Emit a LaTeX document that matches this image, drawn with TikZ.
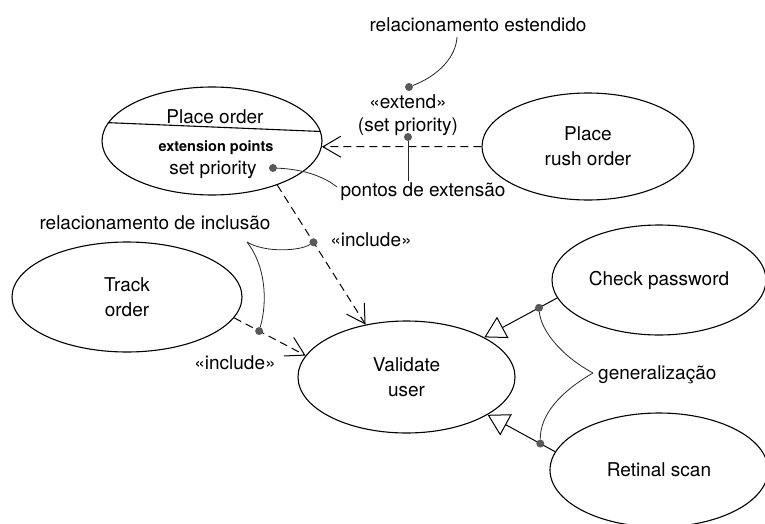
\documentclass[tikz,border=0pt]{standalone}
\usepackage{fontspec}
\setmainfont{TeX Gyre Heros}
\usetikzlibrary{shapes.geometric,arrows.meta}
\begin{document}
\begin{tikzpicture}[x=1pt,y=-1pt,
  txt/.style={inner sep=0pt, align=center, font=\fontsize{19}{25}\selectfont},
  usecase/.style={ellipse, draw, line width=1.1pt, inner sep=0pt, txt},
  dot/.style={circle, fill=black!65, inner sep=0pt, minimum size=8pt},
  note/.style={line width=0.8pt, black!85},
  dashedlink/.style={dash pattern=on 8pt off 5pt, line width=1pt,
    -{Straight Barb[length=18pt,width=21pt,line width=1pt]}},
  genlink/.style={line width=1pt, -{Triangle[open,length=21pt,width=24pt,line width=1pt]}}
]
\useasboundingbox (0,0) rectangle (765,524);

% use cases
\node[usecase, minimum width=220pt, minimum height=108pt] (po) at (212,141) {};
\draw[line width=1.1pt] (po.170) -- (po.5);
\node[txt] (potitle) at (215,117) {Place order};
\node[txt, font=\bfseries\fontsize{14.5}{17}\selectfont] (epts) at (216,148) {extension points};
\node[txt] (sp) at (213,170) {set priority};

\node[usecase, minimum width=212pt, minimum height=107pt] (rush) at (588,146.5) {Place\\rush order};
\node[usecase, minimum width=230pt, minimum height=110pt] (track) at (127,297) {Track\\order};
\node[usecase, minimum width=217pt, minimum height=112pt] (vu) at (406.5,377) {Validate\\user};
\node[usecase, minimum width=214pt, minimum height=110pt] (cp) at (659,280) {Check password};
\node[usecase, minimum width=218pt, minimum height=114pt] (rs) at (659,470) {Retinal scan};

% relationships
\draw[dashedlink] (rush.west) -- (po.-3);
\draw[dashedlink] (po.-34) -- coordinate[pos=0.41] (i1) (vu.128);
\draw[dashedlink] (track.-11) -- coordinate[pos=0.35] (i2) (vu.168);
\draw[genlink] (cp.190) -- coordinate[pos=0.25] (g1) (vu.27);
\draw[genlink] (rs.170) -- coordinate[pos=0.22] (g2) (vu.335);

% relationship labels
\node[txt] (extlbl) at (408,102) {«extend»};
\node[txt] (extsp) at (408,127) {(set priority)};
\node[txt] (inc1) at (371,240) {«include»};
\node[txt] (inc2) at (235,363) {«include»};

% annotation dots
\node[dot] (dext) at (409,87) {};
\node[dot] (dsp) at (408,137) {};
\node[dot] (dsetp) at (273,168) {};
\node[dot] (di1) at (i1) {};
\node[dot] (di2) at (i2) {};
\node[dot] (dg1) at (g1) {};
\node[dot] (dg2) at (g2) {};

% annotations
\node[txt] (relest) at (478,25) {relacionamento estendido};
\coordinate (c1) at (457,37);
\draw[note] (c1) .. controls (456,56) and (440,75) .. (dext);

\node[txt] (ptext) at (423,192) {pontos de extensão};
\coordinate (c2) at (408,181);
\draw[note] (dsp) -- (c2);
\coordinate (c3) at (337,187);
\draw[note] (dsetp) .. controls (300,169) and (322,175) .. (c3);

\node[txt] (relinc) at (155,223) {relacionamento de inclusão};
\coordinate (b1) at (247,242);
\draw[note] (b1) .. controls (265,253) and (300,251) .. (di1);
\draw[note] (b1) .. controls (265,265) and (268,300) .. (di2);

\node[txt, anchor=west] (gentext) at (598,375) {generalização};
\coordinate (b2) at (593,373);
\draw[note] (dg1) .. controls (541,330) and (560,355) .. (b2);
\draw[note] (b2) .. controls (560,392) and (540,415) .. (dg2);
\end{tikzpicture}
\end{document}
